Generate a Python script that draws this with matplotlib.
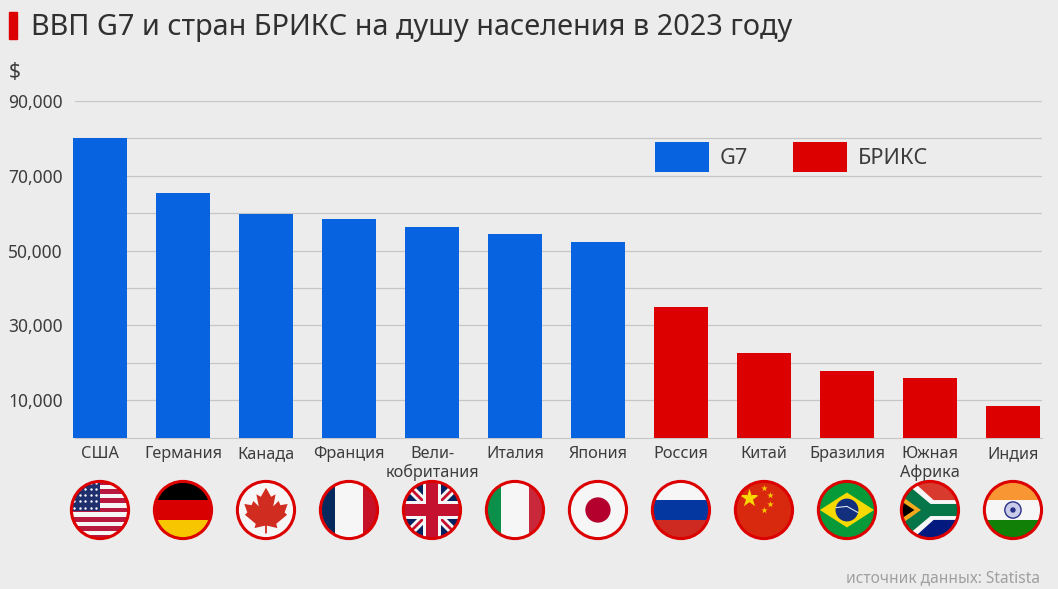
import matplotlib
matplotlib.use('Agg')
import matplotlib.pyplot as plt
from matplotlib.patches import Circle, Rectangle, Polygon
import numpy as np

countries = ['США', 'Германия', 'Канада', 'Франция', 'Вели-\nкобритания', 'Италия', 'Япония',
	'Россия', 'Китай', 'Бразилия', 'Южная\nАфрика', 'Индия']
gdpG7 = [80000, 65500, 59900, 58500, 56400, 54400, 52400]
gdpBrics = [35000, 22700, 17900, 16000, 8500]
yTicks = [10000, 30000, 50000, 70000, 90000]
gridTicks = [20000, 40000, 60000, 80000]

W, H = 1058, 589
BG = '#ececec'
BLUE = '#0763e0'
RED = '#dc0000'
TEXT = '#3c3c3c'
plt.rcParams['font.family'] = ['Noto Sans', 'DejaVu Sans']

fig = plt.figure(figsize=[W / 100, H / 100], dpi=100, facecolor=BG)

# pixel box -> figure fraction
def box(x0, y0, x1, y1) :
	return [x0 / W, 1 - y1 / H, (x1 - x0) / W, (y1 - y0) / H]

ax = fig.add_axes(box(75, 101, 1042, 437.5), zorder=2)
ax.patch.set_visible(False)
pos = np.arange(len(countries))
ax.set_xlim(-0.301, 11.35)
ax.set_ylim(0, 90000)

barG7 = ax.bar(pos[:7], gdpG7, width=0.655, color=BLUE, label='G7', zorder=3, clip_on=False)
barBrics = ax.bar(pos[7:], gdpBrics, width=0.655, color=RED, label='БРИКС', zorder=3, clip_on=False)

# Axes and grid
ax.set_yticks(yTicks)
ax.set_yticks(gridTicks, minor=True)
ax.set_yticklabels([f'{v:,}' for v in yTicks], fontsize=12.5, color=TEXT, ha='left')
ax.tick_params(axis='y', which='both', length=0, pad=48)
ax.grid(axis='y', which='both', color='#c6c6c6', linewidth=0.9, zorder=0)
ax.set_axisbelow(True)
ax.set_xticks(pos)
ax.set_xticklabels([])
ax.tick_params(axis='x', length=0)
for s in ['top', 'left', 'right'] :
	ax.spines[s].set_visible(False)
ax.spines['bottom'].set_color('#c6c6c6')

# Category names on a shared baseline, one text per line
for i, name in enumerate(countries) :
	for j, line in enumerate(name.split('\n')) :
		ax.annotate(line, (pos[i], 0), xytext=(0, -14.8 - 13.7 * j), textcoords='offset points',
			ha='center', va='baseline', fontsize=11.7, color=TEXT, annotation_clip=False)

ax.legend(handles=[barG7, barBrics], ncol=2, frameon=False, fontsize=15.6, labelcolor=TEXT,
	loc='upper left', bbox_to_anchor=(0.5998, 0.878), borderaxespad=0, borderpad=0,
	handlelength=2.5, handleheight=1.75, handletextpad=0.47, columnspacing=2.1)

# Title, unit and source
fig.add_artist(Rectangle((9 / W, 1 - 39 / H), 8 / W, 27 / H, color=RED, transform=fig.transFigure))
fig.text(31 / W, 1 - 27.5 / H, 'ВВП G7 и стран БРИКС на душу населения в 2023 году', fontsize=20.8,
	color='#303030', va='center')
fig.text(9 / W, 1 - 72 / H, '$', fontsize=15, color=TEXT, va='center')
fig.text(1040 / W, 1 - 578 / H, 'источник данных: Statista', fontsize=11.2, color='#a0a0a0',
	va='center', ha='right')

# -------------------- Flags --------------------

def stripes(a, colors) :
	n = len(colors)
	for i, c in enumerate(colors) :
		a.add_patch(Rectangle((-1, 1 - 2 * (i + 1) / n), 2, 2 / n, color=c, lw=0))

# three vertical bands with a wide middle one
def bands(a, left, mid, right) :
	a.add_patch(Rectangle((-1, -1), 2, 2, color=mid, lw=0))
	a.add_patch(Rectangle((-1, -1), 0.53, 2, color=left, lw=0))
	a.add_patch(Rectangle((0.47, -1), 0.53, 2, color=right, lw=0))

def flagUsa(a) :
	stripes(a, ['#b9193f' if i % 2 == 0 else '#f6f6f6' for i in range(13)])
	a.add_patch(Rectangle((-1, -0.02), 1.0, 1.02, color='#1f2f6e', lw=0, zorder=2))
	sx, sy = np.meshgrid(np.linspace(-0.85, -0.12, 5), np.linspace(0.08, 0.9, 5))
	a.scatter(sx.ravel(), sy.ravel(), s=3, color='white', lw=0, zorder=3)

def flagGermany(a) :
	stripes(a, ['#000000', '#d80000', '#f7c600'])

def flagCanada(a) :
	stripes(a, ['#f6f6f6'])
	leaf = [(0, 0.74), (-0.17, 0.44), (-0.32, 0.52), (-0.24, 0.12), (-0.42, 0.3), (-0.48, 0.16), (-0.72, 0.2),
		(-0.62, -0.08), (-0.7, -0.16), (-0.34, -0.46), (-0.38, -0.6), (-0.03, -0.52), (-0.03, -0.78),
		(0.03, -0.78), (0.03, -0.52), (0.38, -0.6), (0.34, -0.46), (0.7, -0.16), (0.62, -0.08), (0.72, 0.2),
		(0.48, 0.16), (0.42, 0.3), (0.24, 0.12), (0.32, 0.52), (0.17, 0.44)]
	a.add_patch(Polygon(leaf, color='#d02c20', lw=0))

def flagFrance(a) :
	bands(a, '#04295c', '#f6f6f6', '#c51226')

def flagUk(a) :
	stripes(a, ['#04215f'])
	for sgn in [1, -1] :
		a.plot([-1, 1], [-sgn, sgn], color='#f6f6f6', lw=6, solid_capstyle='butt', zorder=2)
		a.plot([-1, 1], [-sgn, sgn], color='#c3112f', lw=2, solid_capstyle='butt', zorder=2)
	a.add_patch(Rectangle((-1, -0.3), 2, 0.6, color='#f6f6f6', lw=0, zorder=3))
	a.add_patch(Rectangle((-0.3, -1), 0.6, 2, color='#f6f6f6', lw=0, zorder=3))
	a.add_patch(Rectangle((-1, -0.19), 2, 0.38, color='#c3112f', lw=0, zorder=4))
	a.add_patch(Rectangle((-0.2, -1), 0.4, 2, color='#c3112f', lw=0, zorder=4))

def flagItaly(a) :
	bands(a, '#0a9048', '#f6f6f6', '#c8283a')

def flagJapan(a) :
	stripes(a, ['#f6f6f6'])
	a.add_patch(Circle((0, 0), 0.42, color='#b3002d', lw=0))

def flagRussia(a) :
	stripes(a, ['#f6f6f6', '#0537a0', '#cf2a22'])

def flagChina(a) :
	stripes(a, ['#d8290f'])
	a.scatter([-0.5], [0.4], marker='*', s=190, color='#f8d800', lw=0, zorder=3)
	a.scatter([0, 0.2, 0.2, 0], [0.72, 0.5, 0.2, 0], marker='*', s=24, color='#f8c800', lw=0, zorder=3)

def flagBrazil(a) :
	stripes(a, ['#069a38'])
	a.add_patch(Polygon([(-0.9, 0), (0, 0.58), (0.9, 0), (0, -0.58)], color='#f7d900', lw=0))
	a.add_patch(Circle((0, 0), 0.38, color='#12307e', lw=0))
	a.plot([-0.36, 0, 0.36], [0.08, 0.12, -0.08], color='#dfe6ee', lw=0.8)

def flagSouthAfrica(a) :
	stripes(a, ['#d93a2e', '#021a80'])
	a.add_patch(Polygon([(-1, 1), (-0.62, 1), (0.12, 0.33), (1, 0.33), (1, -0.33), (0.12, -0.33), (-0.62, -1), (-1, -1)],
		color='#f6f6f6', lw=0))
	a.add_patch(Polygon([(-1, 0.82), (-0.72, 0.82), (0.02, 0.2), (1, 0.2), (1, -0.2), (0.02, -0.2), (-0.72, -0.82), (-1, -0.82)],
		color='#067548', lw=0))
	a.add_patch(Polygon([(-1, 0.5), (-0.3, 0), (-1, -0.5)], color='#f5aa1c', lw=0))
	a.add_patch(Polygon([(-1, 0.32), (-0.52, 0), (-1, -0.32)], color='#000000', lw=0))

def flagIndia(a) :
	stripes(a, ['#f89634', '#f6f6f6', '#118006'])
	a.add_patch(Circle((0, 0), 0.27, facecolor='#c8cce8', edgecolor='#2a2f8a', lw=1))
	a.add_patch(Circle((0, 0), 0.09, color='#2a2f8a', lw=0))

flags = [flagUsa, flagGermany, flagCanada, flagFrance, flagUk, flagItaly, flagJapan,
	flagRussia, flagChina, flagBrazil, flagSouthAfrica, flagIndia]

for i, draw in enumerate(flags) :
	# centre of the flag follows the bar position
	cx = ax.transData.transform((pos[i], 0))[0]
	a = fig.add_axes(box(cx - 31, 479, cx + 31, 541), zorder=1)
	a.set_xlim(-1.03, 1.03)
	a.set_ylim(-1.03, 1.03)
	a.axis('off')
	draw(a)
	clip = Circle((0, 0), 0.96, transform=a.transData)
	for art in list(a.patches) + list(a.lines) + list(a.collections) :
		art.set_clip_path(clip)
	a.add_patch(Circle((0, 0), 0.95, facecolor='none', edgecolor=RED, lw=2.2, zorder=10))

plt.savefig('out.png', dpi=100, facecolor=BG)
